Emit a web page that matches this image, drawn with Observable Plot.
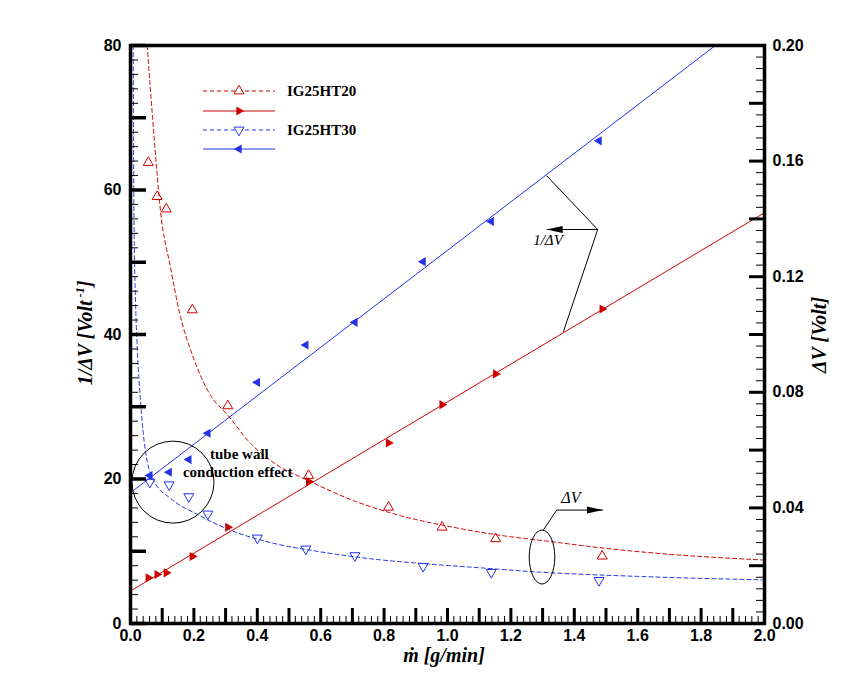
<!DOCTYPE html>
<html><head><meta charset="utf-8">
<script src="https://cdn.jsdelivr.net/npm/d3@7"></script>
<script src="https://cdn.jsdelivr.net/npm/@observablehq/plot@0.6"></script>
<style>body{margin:0;background:#fff}</style>
</head><body><div id="chart"></div>
<script>
// ---- data ----
const seriesNames = ["IG25HT20", "IG25HT30"];
// IG25HT20
const flowHT20   = [0.056, 0.084, 0.113, 0.195, 0.307, 0.562, 0.814, 0.983, 1.152, 1.488];
const dV_HT20    = [0.1595, 0.1477, 0.1434, 0.1085, 0.0753, 0.0512, 0.0402, 0.0333, 0.0293, 0.0233];
const invdV_HT20 = [6.32, 6.78, 7.01, 9.27, 13.32, 19.64, 25.0, 30.29, 34.54, 43.53];
// IG25HT30
const flowHT30   = [0.061, 0.122, 0.184, 0.244, 0.400, 0.553, 0.708, 0.923, 1.138, 1.478];
const dV_HT30    = [0.0489, 0.0480, 0.0439, 0.0379, 0.0296, 0.0258, 0.0235, 0.0198, 0.0177, 0.0149];
const invdV_HT30 = [20.47, 20.93, 22.69, 26.33, 33.38, 38.55, 41.68, 50.08, 55.65, 66.81];
// linear fits of 1/ΔV (end points)
const fitX_HT20 = [0, 2.0],   fitY_HT20 = [4.5, 56.85];
const fitX_HT30 = [0, 1.845], fitY_HT30 = [18.1, 80];
// dashed ΔV fit curves
const curveX_HT20  = [0.0527, 0.075, 0.0946, 0.126, 0.158, 0.195, 0.252, 0.305, 0.379, 0.46, 0.56, 0.704, 0.852, 1.009, 1.167, 1.314, 1.5, 1.693, 1.993];
const curveDV_HT20 = [0.2, 0.1675, 0.1428, 0.1233, 0.106, 0.093, 0.079, 0.0723, 0.0623, 0.055, 0.0495, 0.0425, 0.0373, 0.0335, 0.0305, 0.0285, 0.026, 0.024, 0.022];
const curveX_HT30  = [0.0085, 0.011, 0.0158, 0.022, 0.0315, 0.0473, 0.0735, 0.126, 0.21, 0.315, 0.442, 0.599, 0.757, 0.915, 1.1, 1.272, 1.6, 1.993];
const curveDV_HT30 = [0.2, 0.14, 0.1118, 0.094, 0.077, 0.0595, 0.0495, 0.0433, 0.0378, 0.0323, 0.028, 0.0248, 0.0224, 0.0208, 0.0193, 0.0179, 0.0163, 0.0151];
// tick labels
const xTickLabels     = [0, 0.2, 0.4, 0.6, 0.8, 1.0, 1.2, 1.4, 1.6, 1.8, 2.0];
const leftTickLabels  = [0, 20, 40, 60, 80];
const rightTickLabels = [0, 0.04, 0.08, 0.12, 0.16, 0.20];
const RATIO = 400; // right axis ΔV = (left axis value) / 400
// annotation anchors (data coordinates)
const circleAt   = [0.1356, 19.5];
const tubeText   = [["tube wall", 0.2524, 22.75], ["conduction effect", 0.167, 20.25]];
const ellipseAt  = [1.2997, 9.13];
const dVLeader   = [[1.304, 12.86], [1.346, 15.63], [1.492, 15.63]];
const dVLabel    = [1.391, 17.4];
const invLeader  = [[1.3145, 61.9], [1.4754, 54.46], [1.367, 40.3]];
const invArrow   = [[1.4754, 54.46], [1.3145, 54.46]];
const invLabel   = [1.3186, 53.0];

// ---- layout ----
const W = 867, H = 683, mL = 130, mR = 103, mT = 45, mB = 60;
const innerW = W - mL - mR, innerH = H - mT - mB;
const RED = "#cc0000", BLUE = "#2233e6";
const SANS = "'Liberation Sans', Arial, sans-serif";
const SERIF = "'Times New Roman', 'Liberation Serif', 'DejaVu Serif', serif";

const ht20 = flowHT20.map((x, i) => ({x, dv: dV_HT20[i], inv: invdV_HT20[i]}));
const ht30 = flowHT30.map((x, i) => ({x, dv: dV_HT30[i], inv: invdV_HT30[i]}));
const fit20 = fitX_HT20.map((x, i) => ({x, y: fitY_HT20[i]}));
const fit30 = fitX_HT30.map((x, i) => ({x, y: fitY_HT30[i]}));
const cur20 = curveX_HT20.map((x, i) => ({x, y: curveDV_HT20[i] * RATIO}));
const cur30 = curveX_HT30.map((x, i) => ({x, y: curveDV_HT30[i] * RATIO}));

const rTri = 3.7, rFill = 3.4;

function arrowHead(g, tx, ty, dir) { // dir: +1 pointing right, -1 pointing left
  const L = 16, h = 3.5;
  g.append("path").attr("d", `M${tx},${ty}L${tx - dir * L},${ty - h}L${tx - dir * L},${ty + h}Z`)
    .attr("fill", "#000").attr("stroke", "none");
}

function annotate(index, scales) {
  const x = scales.x, y = scales.y;
  const g = d3.create("svg:g").attr("fill", "none").attr("stroke", "#000").attr("stroke-width", 1)
    .attr("text-anchor", "start");
  g.append("circle").attr("cx", x(circleAt[0])).attr("cy", y(circleAt[1])).attr("r", 41);
  for (const [t, a, b] of tubeText)
    g.append("text").attr("x", x(a)).attr("y", y(b)).text(t).attr("text-anchor", "start")
      .attr("fill", "#000").attr("stroke", "none").attr("font-family", SERIF)
      .attr("font-weight", "bold").attr("font-size", 15);
  g.append("ellipse").attr("cx", x(ellipseAt[0])).attr("cy", y(ellipseAt[1])).attr("rx", 12.8).attr("ry", 27);
  const ln = d3.line(d => x(d[0]), d => y(d[1]));
  g.append("path").attr("d", ln(dVLeader));
  const tip = dVLeader[dVLeader.length - 1];
  arrowHead(g, x(tip[0]), y(tip[1]), 1);
  g.append("text").attr("x", x(dVLabel[0])).attr("y", y(dVLabel[1])).attr("text-anchor", "middle")
    .attr("dominant-baseline", "central")
    .attr("fill", "#000").attr("stroke", "none").attr("font-family", SERIF).attr("font-style", "italic")
    .attr("font-size", 16).text("ΔV");
  g.append("path").attr("d", ln(invLeader));
  g.append("path").attr("d", ln(invArrow));
  arrowHead(g, x(invArrow[1][0]), y(invArrow[1][1]), -1);
  g.append("text").attr("x", x(invLabel[0])).attr("y", y(invLabel[1])).attr("text-anchor", "middle")
    .attr("dominant-baseline", "central")
    .attr("fill", "#000").attr("stroke", "none").attr("font-family", SERIF).attr("font-style", "italic")
    .attr("font-size", 15).text("1/ΔV");
  return g.node();
}

// legend layout (pixels)
const legRows = [91, 111, 130, 149], legX0 = 203, legX1 = 275, legM = 239, legT = 287;
function legend() {
  const g = d3.create("svg:g").attr("text-anchor", "start");
  const styles = [
    {c: RED, dash: "4,3", rot: 0, fill: false, label: seriesNames[0]},
    {c: RED, dash: null, rot: 90, fill: true, label: null},
    {c: BLUE, dash: "4,3", rot: 180, fill: false, label: seriesNames[1]},
    {c: BLUE, dash: null, rot: -90, fill: true, label: null}
  ];
  styles.forEach((s, i) => {
    const yy = legRows[i];
    g.append("line").attr("x1", legX0).attr("x2", legX1).attr("y1", yy).attr("y2", yy)
      .attr("stroke", s.c).attr("stroke-width", 1).attr("stroke-dasharray", s.dash);
    const r = s.fill ? rFill : rTri;
    g.append("path").attr("d", d3.symbol(d3.symbolTriangle, Math.PI * r * r)())
      .attr("transform", `translate(${legM},${yy}) rotate(${s.rot})`)
      .attr("fill", s.fill ? s.c : "#fff").attr("stroke", s.fill ? "none" : s.c).attr("stroke-width", 1);
    if (s.label) g.append("text").attr("x", legT).attr("y", yy).attr("dominant-baseline", "central")
      .attr("text-anchor", "start")
      .attr("font-family", SERIF).attr("font-weight", "bold").attr("font-size", 15).attr("fill", "#000").text(s.label);
  });
  // axis titles
  const t1 = g.append("text").attr("transform", "translate(92,333) rotate(-90)").attr("text-anchor", "middle")
    .attr("font-family", SERIF).attr("font-weight", "bold").attr("font-style", "italic").attr("font-size", 20).attr("fill", "#000");
  t1.append("tspan").text("1/ΔV [Volt");
  t1.append("tspan").attr("dy", -8).attr("font-size", 12).text(" -1");
  t1.append("tspan").attr("dy", 8).text("]");
  g.append("text").attr("transform", "translate(826,335) rotate(-90)").attr("text-anchor", "middle")
    .attr("font-family", SERIF).attr("font-weight", "bold").attr("font-style", "italic").attr("font-size", 20).attr("fill", "#000")
    .text("ΔV [Volt]");
  g.append("text").attr("x", 444).attr("y", 662).attr("text-anchor", "middle")
    .attr("font-family", SERIF).attr("font-weight", "bold").attr("font-style", "italic").attr("font-size", 20).attr("fill", "#000")
    .text("ṁ [g/min]");
  return g.node();
}

const tickFont = {fontSize: 16, fontWeight: "bold", fontFamily: SANS, fill: "#000"};

const chart = Plot.plot({
  width: W, height: H,
  marginLeft: mL, marginRight: mR, marginTop: mT, marginBottom: mB,
  x: {domain: [0, 2]},
  y: {domain: [0, 80]},
  style: {background: "#fff", color: "#000"},
  marks: [
    // fit lines & curves
    Plot.line(cur20, {x: "x", y: "y", stroke: RED, strokeWidth: 1, strokeDasharray: "4,3", curve: "monotone-x", clip: true}),
    Plot.line(cur30, {x: "x", y: "y", stroke: BLUE, strokeWidth: 1, strokeDasharray: "4,3", curve: "monotone-x", clip: true}),
    Plot.line(fit20, {x: "x", y: "y", stroke: RED, strokeWidth: 1, clip: true}),
    Plot.line(fit30, {x: "x", y: "y", stroke: BLUE, strokeWidth: 1, clip: true}),
    // markers
    Plot.dot(ht20, {x: "x", y: d => d.dv * RATIO, symbol: "triangle", r: rTri, stroke: RED, fill: "none", strokeWidth: 1}),
    Plot.dot(ht20, {x: "x", y: "inv", symbol: "triangle", r: rFill, fill: RED, stroke: "none", rotate: 90}),
    Plot.dot(ht30, {x: "x", y: d => d.dv * RATIO, symbol: "triangle", r: rTri, stroke: BLUE, fill: "none", strokeWidth: 1, rotate: 180}),
    Plot.dot(ht30, {x: "x", y: "inv", symbol: "triangle", r: rFill, fill: BLUE, stroke: "none", rotate: -90}),
    annotate,
    legend,
    // ticks (inward)
    Plot.tickX(d3.range(0, 101).map(i => i * 0.02), {x: d => d, insetTop: innerH - 7, stroke: "#000", strokeWidth: 1}),
    Plot.tickX(d3.range(0, 21).map(i => i * 0.1), {x: d => d, insetTop: innerH - 15, stroke: "#000", strokeWidth: 3}),
    Plot.tickY(d3.range(0, 41).map(i => i * 2), {y: d => d, insetRight: innerW - 8, stroke: "#000", strokeWidth: 1}),
    Plot.tickY(d3.range(0, 9).map(i => i * 10), {y: d => d, insetRight: innerW - 16, stroke: "#000", strokeWidth: 3.5}),
    Plot.tickY(d3.range(0, 51).map(i => i * 0.004 * RATIO), {y: d => d, insetLeft: innerW - 8, stroke: "#000", strokeWidth: 1}),
    Plot.tickY(d3.range(0, 11).map(i => i * 0.02 * RATIO), {y: d => d, insetLeft: innerW - 15, stroke: "#000", strokeWidth: 3}),
    Plot.frame({stroke: "#000", strokeWidth: 3.5}),
    // tick labels
    Plot.axisX(xTickLabels, {anchor: "bottom", tickSize: 0, tickPadding: 6, tickFormat: d => d.toFixed(1), label: null, ...tickFont}),
    Plot.axisY(leftTickLabels, {anchor: "left", tickSize: 0, tickPadding: 9, label: null, ...tickFont}),
    Plot.axisY(rightTickLabels.map(d => d * RATIO), {anchor: "right", tickSize: 0, tickPadding: 8, tickFormat: d => (d / RATIO).toFixed(2), label: null, ...tickFont})
  ]
});
document.getElementById("chart").appendChild(chart);
</script>
</body></html>
